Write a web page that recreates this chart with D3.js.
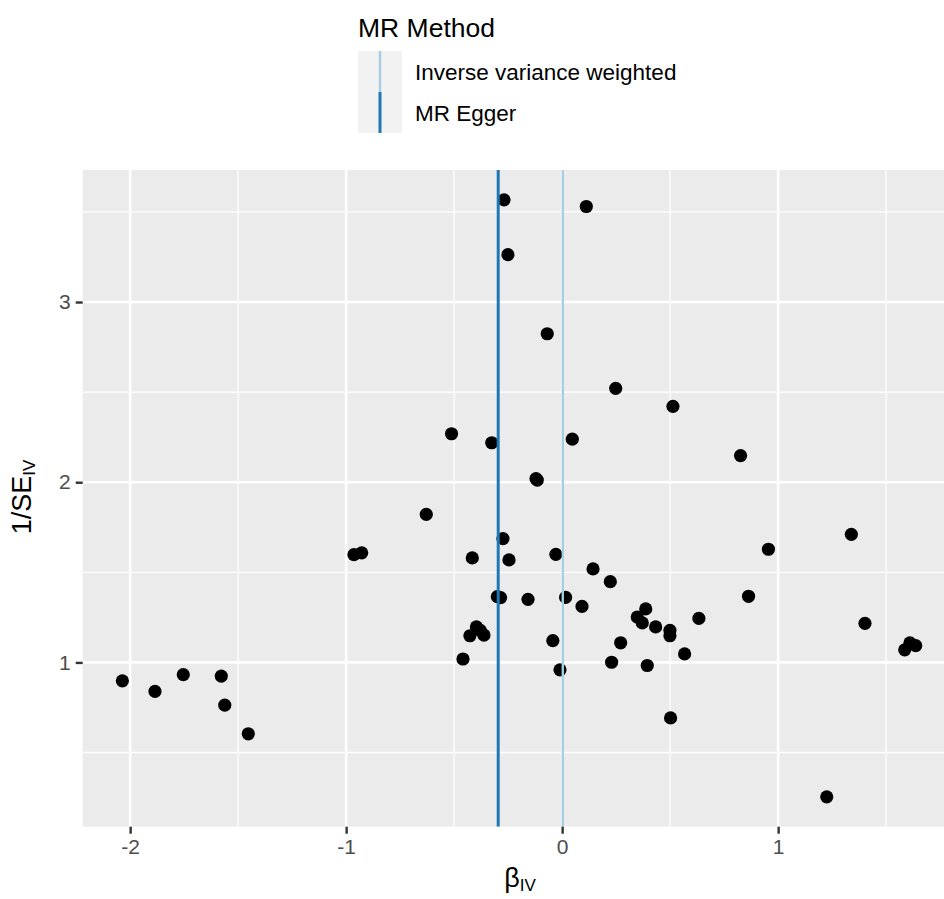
<!DOCTYPE html>
<html>
<head>
<meta charset="utf-8">
<script src="https://cdn.jsdelivr.net/npm/d3@7"></script>
<style>
  html, body { margin: 0; padding: 0; background: #ffffff; }
  svg { display: block; font-family: "Liberation Sans", Arial, Helvetica, sans-serif; }
</style>
</head>
<body>
<svg id="chart" width="944" height="899"></svg>
<script>
// ---- data ----
const betaIV = [
  -2.036, -1.885, -1.754, -1.578, -1.562, -1.453, -0.964, -0.928, -0.629, -0.512,
  -0.459, -0.427, -0.416, -0.397, -0.379, -0.362, -0.326, -0.300, -0.285, -0.274,
  -0.269, -0.251, -0.246, -0.158, -0.121, -0.115, -0.069, -0.043, -0.029, -0.010,
   0.016,  0.047,  0.092,  0.112,  0.143,  0.223,  0.229,  0.248,  0.271,  0.348,
   0.371,  0.387,  0.394,  0.433,  0.499,  0.499,  0.502,  0.513,  0.567,  0.633,
   0.826,  0.863,  0.955,  1.225,  1.339,  1.402,  1.586,  1.610,  1.637
];
const invSE = [
   0.898,  0.839,  0.932,  0.924,  0.763,  0.604,  1.598,  1.608,  1.822,  2.269,
   1.019,  1.148,  1.580,  1.197,  1.178,  1.152,  2.219,  1.365,  1.360,  1.687,
   3.567,  3.263,  1.569,  1.350,  2.020,  2.012,  2.824,  1.121,  1.600,  0.959,
   1.361,  2.239,  1.311,  3.530,  1.519,  1.448,  1.001,  2.521,  1.109,  1.252,
   1.219,  1.297,  0.983,  1.197,  1.178,  1.148,  0.692,  2.421,  1.047,  1.244,
   2.148,  1.367,  1.628,  0.254,  1.711,  1.217,  1.070,  1.108,  1.093
];
const methods = ["Inverse variance weighted", "MR Egger"];
const methodEstimates = [0.003, -0.296];
const xTicks = [-2, -1, 0, 1];
const yTicks = [1, 2, 3];
const xMinor = [-1.5, -0.5, 0.5, 1.5];
const yMinor = [0.5, 1.5, 2.5, 3.5];
const legendTitle = "MR Method";

// ---- layout ----
const svg = d3.select("#chart");
const panel = { left: 82.7, right: 955.4, top: 170, bottom: 826.7 };

const xExt = d3.extent(betaIV), xPad = 0.05 * (xExt[1] - xExt[0]);
const yExt = d3.extent(invSE), yPad = 0.05 * (yExt[1] - yExt[0]);
const x = d3.scaleLinear().domain([xExt[0] - xPad, xExt[1] + xPad]).range([panel.left, panel.right]);
const y = d3.scaleLinear().domain([yExt[0] - yPad, yExt[1] + yPad]).range([panel.bottom, panel.top]);
const color = d3.scaleOrdinal(methods, ["#a6cee3", "#1f78b4"]);
const lineW = d3.scaleOrdinal(methods, [2.4, 3]);

svg.append("clipPath").attr("id", "clip").append("rect")
  .attr("x", panel.left).attr("y", panel.top)
  .attr("width", panel.right - panel.left).attr("height", panel.bottom - panel.top);

// panel background
svg.append("rect")
  .attr("x", panel.left).attr("y", panel.top)
  .attr("width", panel.right - panel.left).attr("height", panel.bottom - panel.top)
  .attr("fill", "#ebebeb");

const g = svg.append("g").attr("clip-path", "url(#clip)");

// minor grid
g.selectAll(".vminor").data(xMinor).join("line")
  .attr("x1", d => x(d)).attr("x2", d => x(d))
  .attr("y1", panel.top).attr("y2", panel.bottom)
  .attr("stroke", "#ffffff").attr("stroke-width", 1.3);
g.selectAll(".hminor").data(yMinor).join("line")
  .attr("x1", panel.left).attr("x2", panel.right)
  .attr("y1", d => y(d)).attr("y2", d => y(d))
  .attr("stroke", "#ffffff").attr("stroke-width", 1.3);
// major grid
g.selectAll(".vmajor").data(xTicks).join("line")
  .attr("x1", d => x(d)).attr("x2", d => x(d))
  .attr("y1", panel.top).attr("y2", panel.bottom)
  .attr("stroke", "#ffffff").attr("stroke-width", 2.6);
g.selectAll(".hmajor").data(yTicks).join("line")
  .attr("x1", panel.left).attr("x2", panel.right)
  .attr("y1", d => y(d)).attr("y2", d => y(d))
  .attr("stroke", "#ffffff").attr("stroke-width", 2.6);

// points
const pts = d3.zip(betaIV, invSE);
g.selectAll("circle").data(pts).join("circle")
  .attr("cx", d => x(d[0])).attr("cy", d => y(d[1]))
  .attr("r", 6.6).attr("fill", "#000000");

// method lines
g.selectAll(".mline").data(d3.zip(methods, methodEstimates)).join("line")
  .attr("x1", d => x(d[1])).attr("x2", d => x(d[1]))
  .attr("y1", panel.top).attr("y2", panel.bottom)
  .attr("stroke", d => color(d[0])).attr("stroke-width", d => lineW(d[0]));

// axes
const tickFont = 21;
const yAxis = svg.append("g").attr("transform", `translate(${panel.left},0)`)
  .call(d3.axisLeft(y).tickValues(yTicks).tickSize(7).tickPadding(5).tickFormat(d3.format("d")));
const xAxis = svg.append("g").attr("transform", `translate(0,${panel.bottom})`)
  .call(d3.axisBottom(x).tickValues(xTicks).tickSize(7).tickPadding(5).tickFormat(d => d < 0 ? "-" + Math.abs(d) : String(d)));
[xAxis, yAxis].forEach(a => {
  a.select(".domain").remove();
  a.selectAll(".tick line").attr("stroke", "#333333").attr("stroke-width", 2.4);
  a.selectAll(".tick text").attr("fill", "#4d4d4d")
    .style("font-size", tickFont + "px").style("font-family", "'Liberation Sans', Arial, sans-serif");
});

// axis titles
const xt = svg.append("text").attr("x", 520).attr("y", 887)
  .attr("text-anchor", "middle").attr("fill", "#000").style("font-size", "27px");
xt.append("tspan").text("β");
xt.append("tspan").attr("dy", 4).style("font-size", "17px").text("IV");

const yt = svg.append("text").attr("transform", "translate(31,497) rotate(-90)")
  .attr("text-anchor", "middle").attr("fill", "#000").style("font-size", "27px");
yt.append("tspan").text("1/SE");
yt.append("tspan").attr("dy", 4).style("font-size", "17px").text("IV");

// legend
const lg = svg.append("g");
lg.append("text").attr("x", 358).attr("y", 36.5).attr("fill", "#000")
  .style("font-size", "26.5px").text(legendTitle);
const keyH = 41, keyW = 44, keyX = 358, keyY = 51;
methods.forEach((m, i) => {
  const ky = keyY + i * keyH;
  lg.append("rect").attr("x", keyX).attr("y", ky).attr("width", keyW).attr("height", keyH).attr("fill", "#f2f2f2");
  lg.append("line").attr("x1", keyX + keyW / 2).attr("x2", keyX + keyW / 2)
    .attr("y1", ky).attr("y2", ky + keyH).attr("stroke", color(m)).attr("stroke-width", lineW(m));
  lg.append("text").attr("x", 415).attr("y", ky + keyH / 2 + 8.5).attr("fill", "#000")
    .style("font-size", "22.5px").text(m);
});
</script>
</body>
</html>
